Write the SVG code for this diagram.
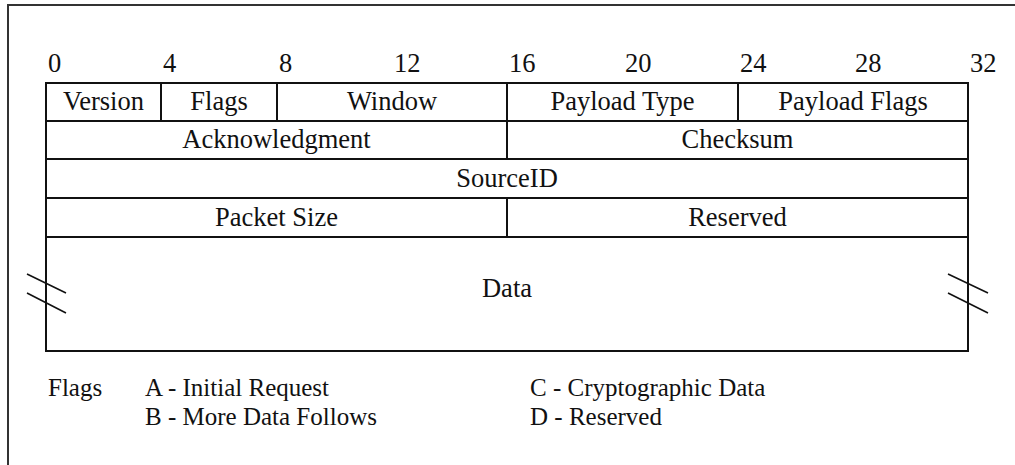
<svg xmlns="http://www.w3.org/2000/svg" width="1015" height="465" viewBox="0 0 1015 465">
  <style>
    text { font-family: "Liberation Serif", "Times New Roman", serif; font-size: 26.5px; fill: #111; }
    .c { text-anchor: middle; }
    .lg { font-size: 25px; }
    .cell { fill: #fff; stroke: #111; stroke-width: 2; }
    .brk { stroke: #111; stroke-width: 1.6; fill: none; }
    .frame { stroke: #333; stroke-width: 2; fill: none; }
  </style>
  <rect width="1015" height="465" fill="#fff"/>

  <!-- outer frame -->
  <path class="frame" d="M8,470 V5 H1020"/>

  <!-- bit offsets -->
  <g id="bit-scale">
    <text x="48" y="72">0</text>
    <text x="163" y="72">4</text>
    <text x="279" y="72">8</text>
    <text x="394" y="72">12</text>
    <text x="509" y="72">16</text>
    <text x="625" y="72">20</text>
    <text x="740" y="72">24</text>
    <text x="855" y="72">28</text>
    <text x="970" y="72">32</text>
  </g>

  <!-- header word 1 -->
  <g id="version"><rect class="cell" x="46" y="83" width="115" height="38"/><text class="c" x="103.5" y="110">Version</text></g>
  <g id="flags"><rect class="cell" x="161" y="83" width="116" height="38"/><text class="c" x="219" y="110">Flags</text></g>
  <g id="window"><rect class="cell" x="277" y="83" width="230" height="38"/><text class="c" x="392" y="110">Window</text></g>
  <g id="payload-type"><rect class="cell" x="507" y="83" width="231" height="38"/><text class="c" x="622.5" y="110">Payload Type</text></g>
  <g id="payload-flags"><rect class="cell" x="738" y="83" width="230" height="38"/><text class="c" x="853" y="110">Payload Flags</text></g>

  <!-- header word 2 -->
  <g id="acknowledgment"><rect class="cell" x="46" y="121" width="461" height="38"/><text class="c" x="276.5" y="148">Acknowledgment</text></g>
  <g id="checksum"><rect class="cell" x="507" y="121" width="461" height="38"/><text class="c" x="737.5" y="148">Checksum</text></g>

  <!-- header word 3 -->
  <g id="source-id"><rect class="cell" x="46" y="159" width="922" height="39"/><text class="c" x="507" y="187">SourceID</text></g>

  <!-- header word 4 -->
  <g id="packet-size"><rect class="cell" x="46" y="198" width="461" height="39"/><text class="c" x="276.5" y="226">Packet Size</text></g>
  <g id="reserved"><rect class="cell" x="507" y="198" width="461" height="39"/><text class="c" x="737.5" y="226">Reserved</text></g>

  <!-- variable-length payload -->
  <g id="data">
    <rect class="cell" x="46" y="237" width="922" height="114"/>
    <text class="c" x="507" y="297">Data</text>
    <path class="brk" d="M27,274 L66,293 M27,293 L66,313"/>
    <path class="brk" d="M948,274 L988,293 M948,293 L988,313"/>
  </g>

  <!-- flag legend -->
  <g id="legend" class="lg">
    <text class="lg" x="48" y="396">Flags</text>
    <text class="lg" x="145" y="396">A - Initial Request</text>
    <text class="lg" x="145" y="425">B - More Data Follows</text>
    <text class="lg" x="530" y="396">C - Cryptographic Data</text>
    <text class="lg" x="530" y="425">D - Reserved</text>
  </g>
</svg>
